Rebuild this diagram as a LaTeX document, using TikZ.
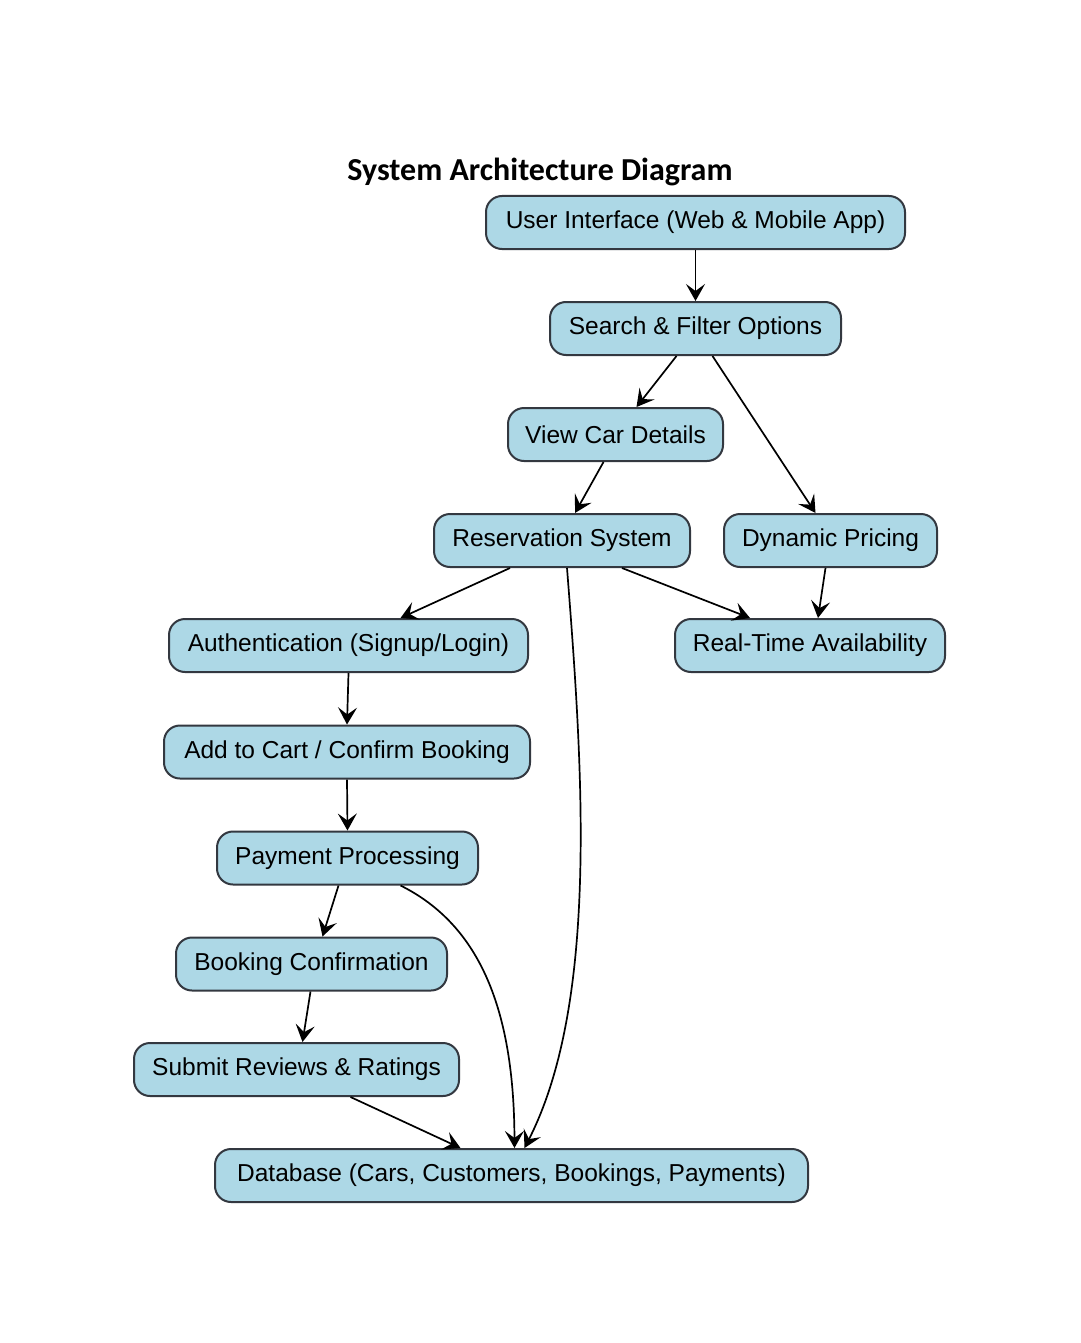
\documentclass[tikz,border=0pt]{standalone}
\usepackage{fontspec}
\setmainfont{Liberation Sans}
\newfontfamily\titlefont{Carlito}
\usetikzlibrary{arrows.meta}
\definecolor{boxblue}{HTML}{ADD8E6}
\definecolor{boxline}{HTML}{333840}
\tikzset{
  compbox/.style={draw=boxline, line width=2pt, fill=boxblue, rounded corners=16pt,
    minimum height=53pt, inner sep=0pt, font=\fontsize{24.5}{28}\selectfont},
  flow/.style={line width=1.7pt, -{Stealth[length=17pt,width=19pt,inset=7pt]}}
}
\begin{document}
\begin{tikzpicture}[x=1pt,y=-1pt]
  \useasboundingbox[fill=white] (0,0) rectangle (1080,1343);
  \node (title) at (540,172) {\titlefont\bfseries\fontsize{32}{36}\selectfont System Architecture Diagram};

  \node (ui) at (695.5,222.5) [compbox, minimum width=419pt] {User Interface (Web \& Mobile App)};
  \node (search) at (695.5,328.5) [compbox, minimum width=291pt] {Search \& Filter Options};
  \node (view) at (615.5,434.5) [compbox, minimum width=215pt] {View Car Details};
  \node (res) at (562,540.5) [compbox, minimum width=256pt] {Reservation System};
  \node (dyn) at (830.5,540.5) [compbox, minimum width=213pt] {Dynamic Pricing};
  \node (auth) at (348.5,645.5) [compbox, minimum width=359pt] {Authentication (Signup/Login)};
  \node (rt) at (810,645.5) [compbox, minimum width=270pt] {Real-Time Availability};
  \node (cart) at (347,752) [compbox, minimum width=366pt] {Add to Cart / Confirm Booking};
  \node (pay) at (347.5,858) [compbox, minimum width=261pt] {Payment Processing};
  \node (conf) at (311.5,964) [compbox, minimum width=271pt] {Booking Confirmation};
  \node (rev) at (296.5,1069.5) [compbox, minimum width=325pt] {Submit Reviews \& Ratings};
  \node (db) at (511.5,1175.5) [compbox, minimum width=593pt] {Database (Cars, Customers, Bookings, Payments)};

  \draw[flow] (ui.south) -- (search.north);
  \draw[flow] ([xshift=-19pt]search.south) -- ([xshift=21pt]view.north);
  \draw[flow] ([xshift=17pt]search.south) -- ([xshift=-15pt]dyn.north);
  \draw[flow] ([xshift=-12pt]view.south) -- ([xshift=13pt]res.north);
  \draw[flow] ([xshift=-52pt]res.south) -- ([xshift=52pt]auth.north);
  \draw[flow] ([xshift=60pt]res.south) -- ([xshift=-60pt]rt.north);
  \draw[flow] ([xshift=5pt]res.south) .. controls (582,760) and (600,1000) .. ([xshift=13pt]db.north);
  \draw[flow] ([xshift=-5pt]dyn.south) -- ([xshift=8pt]rt.north);
  \draw[flow] (auth.south) -- (cart.north);
  \draw[flow] (cart.south) -- (pay.north);
  \draw[flow] ([xshift=-9pt]pay.south) -- ([xshift=11pt]conf.north);
  \draw[flow] ([xshift=53pt]pay.south) .. controls (480,925) and (514,1010) .. ([xshift=3pt]db.north);
  \draw[flow] ([xshift=-1pt]conf.south) -- ([xshift=6pt]rev.north);
  \draw[flow] ([xshift=54pt]rev.south) -- ([xshift=-51pt]db.north);
\end{tikzpicture}
\end{document}
